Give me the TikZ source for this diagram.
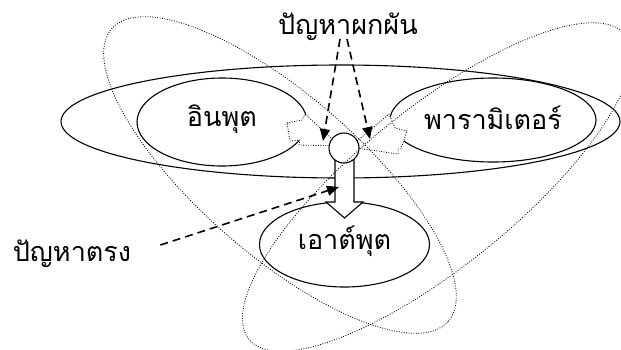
\documentclass[tikz,border=0pt]{standalone}
\usepackage{fontspec}
\newfontfamily\thaifont[Script=Thai]{Loma}
\usetikzlibrary{arrows.meta,shapes.geometric,calc}
\tikzset{
  solid set/.style={ellipse, draw=black, line width=1.1pt, fill=white, inner sep=0pt},
  loop set/.style={ellipse, draw=black, line width=.85pt, dash pattern=on .85pt off 1.6pt, inner sep=0pt},
  hub/.style={circle, draw=black, line width=1.1pt, fill=white, minimum size=30pt, inner sep=0pt},
  dotted block/.style={draw=black, line width=.85pt, dash pattern=on .85pt off 1.6pt, fill=white, line join=round},
  solid block/.style={draw=black, line width=1.1pt, fill=white, line join=miter},
  problem arrow/.style={-{Triangle[length=12pt,width=10pt]}, line width=1.6pt, dash pattern=on 8pt off 5pt},
  thai label/.style={font=\thaifont\fontsize{27}{30}\selectfont, inner sep=0pt},
}

\begin{document}
\begin{tikzpicture}[x=1pt,y=-1pt]
  \useasboundingbox (0,0) rectangle (621,349);

  % outer system
  \node[solid set, fill=none, minimum width=559pt, minimum height=113pt] (system) at (340.5,121.5) {};

  % input, parameter, output sets
  \node[solid set, minimum width=170pt, minimum height=88pt] (input) at (222,122) {};
  \node[solid set, minimum width=206pt, minimum height=84pt] (param) at (493,120) {};
  \node[solid set, minimum width=170pt, minimum height=85pt] (output) at (344.5,244.5) {};

  % dotted block arrows into the hub
  \draw[dotted block] (287,123) -- (302,120) -- (305,114) -- (340,146)
    -- (299,145) -- (300,140) -- (290,141) -- cycle;
  \draw[dotted block] (407,131) -- (395,128) -- (389,114) -- (350,147)
    -- (398,154) -- (398,149) -- (401,149) -- cycle;

  % solid block arrow down to the output
  \draw[solid block] (335,150) -- (335,202) -- (326,202) -- (344.5,218)
    -- (363,202) -- (354,202) -- (354,150) -- cycle;

  % hub
  \node[hub] (hub) at (344,148) {};

  % two crossing loops
  \node[loop set, minimum width=446pt, minimum height=160pt, rotate=-41] (loopA) at (280,175) {};
  \node[loop set, minimum width=484pt, minimum height=158pt, rotate=39] (loopB) at (437,187) {};

  % texts
  \node[thai label] at ([yshift=3pt]input.center) {อินพุต};
  \node[thai label] at ([yshift=2pt]param.center) {พารามิเตอร์};
  \node[thai label] at ([yshift=3pt]output.center) {เอาต์พุต};
  \node[thai label] (inverse) at (348,27) {ปัญหาผกผัน};
  \node[thai label] (direct) at (72,254) {ปัญหาตรง};

  % problem arrows
  \coordinate (tipL) at (323,141);
  \coordinate (tipR) at (370,139);
  \coordinate (tipD) at (339,187);
  \draw[problem arrow] ([xshift=-8pt,yshift=2pt]inverse.south) -- (tipL);
  \draw[problem arrow] ([xshift=-1pt,yshift=2pt]inverse.south) -- (tipR);
  \draw[problem arrow] ([xshift=29pt,yshift=9pt]direct.east) -- (tipD);
\end{tikzpicture}
\end{document}
